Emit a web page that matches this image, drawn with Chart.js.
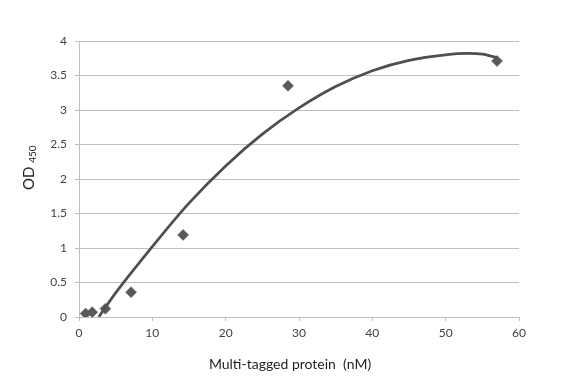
<!DOCTYPE html>
<html>
<head>
<meta charset="utf-8">
<script src="https://cdn.jsdelivr.net/npm/chart.js@4.4.0/dist/chart.umd.min.js"></script>
<style>
  html, body { margin: 0; padding: 0; background: #fff; }
  #wrap { width: 582px; height: 382px; }
</style>
</head>
<body>
<div id="wrap"><canvas id="chart" width="582" height="382"></canvas></div>
<script>
// measured points
const concX = [0.9, 1.8, 3.6, 7.1, 14.2, 28.5, 57];
const odY = [0.05, 0.07, 0.12, 0.36, 1.19, 3.35, 3.71];

// trendline
const fitX = [2.7, 5, 10, 15, 20, 25, 30, 35, 40, 45, 50, 53, 55, 57];
const fitY = [0, 0.35, 1.02, 1.65, 2.19, 2.65, 3.03, 3.34, 3.57, 3.72, 3.80, 3.82, 3.81, 3.76];

const xTicks = [0, 10, 20, 30, 40, 50, 60];
const yTicks = [0, 0.5, 1, 1.5, 2, 2.5, 3, 3.5, 4];

const xTitle = 'Multi-tagged protein  (nM)';
const yTitle = 'OD';
const yTitleSub = '450';

const FONT = 'Lato, "Open Sans", sans-serif';
const GRID = '#bfbfbf';
const MARK = '#595959';

// axis titles drawn by hand so the subscript works
const titlesPlugin = {
  id: 'titles',
  afterDraw(chart) {
    const ctx = chart.ctx;
    ctx.save();
    ctx.fillStyle = '#1f1f1f';
    ctx.font = '14px ' + FONT;
    ctx.textAlign = 'center';
    ctx.textBaseline = 'middle';
    ctx.fillText(xTitle, 290, 364);

    ctx.translate(34, 190);
    ctx.rotate(-Math.PI / 2);
    ctx.textAlign = 'left';
    ctx.textBaseline = 'alphabetic';
    ctx.font = '15px ' + FONT;
    ctx.fillText(yTitle, 0, 0);
    const w = ctx.measureText(yTitle + ' ').width;
    ctx.font = '10px ' + FONT;
    ctx.fillText(yTitleSub, w, 1.5);
    ctx.restore();
  }
};

new Chart(document.getElementById('chart'), {
  type: 'scatter',
  data: {
    datasets: [
      {
        data: fitX.map((x, i) => ({ x, y: fitY[i] })),
        showLine: true,
        borderColor: '#4f4f4f',
        borderWidth: 2.75,
        pointRadius: 0,
        tension: 0.4,
        cubicInterpolationMode: 'monotone',
        order: 1,
      },
      {
        data: concX.map((x, i) => ({ x, y: odY[i] })),
        pointStyle: 'rectRot',
        pointRadius: 5.5,
        backgroundColor: MARK,
        borderColor: MARK,
        borderWidth: 0.5,
        order: 2,
      },
    ],
  },
  options: {
    responsive: false,
    animation: false,
    layout: { padding: { top: 41, right: 63, left: 0, bottom: 0 } },
    plugins: { legend: { display: false }, tooltip: { enabled: false } },
    scales: {
      x: {
        type: 'linear',
        min: 0,
        max: 60,
        afterFit(scale) { scale.height = 65; },
        afterBuildTicks(scale) { scale.ticks = xTicks.map(v => ({ value: v })); },
        grid: { drawOnChartArea: false, drawTicks: true, tickLength: 4, color: GRID },
        border: { display: true, color: GRID, width: 1 },
        ticks: { padding: 5, color: '#404040', font: { family: FONT, size: 12 }, callback: v => String(v) },
      },
      y: {
        type: 'linear',
        min: 0,
        max: 4,
        afterFit(scale) { scale.width = 79; },
        afterBuildTicks(scale) { scale.ticks = yTicks.map(v => ({ value: v })); },
        grid: { drawTicks: true, tickLength: 4, color: GRID },
        border: { display: true, color: GRID, width: 1 },
        ticks: { padding: 8, color: '#404040', font: { family: FONT, size: 12 }, callback: v => String(v) },
      },
    },
  },
  plugins: [titlesPlugin],
});
</script>
</body>
</html>
